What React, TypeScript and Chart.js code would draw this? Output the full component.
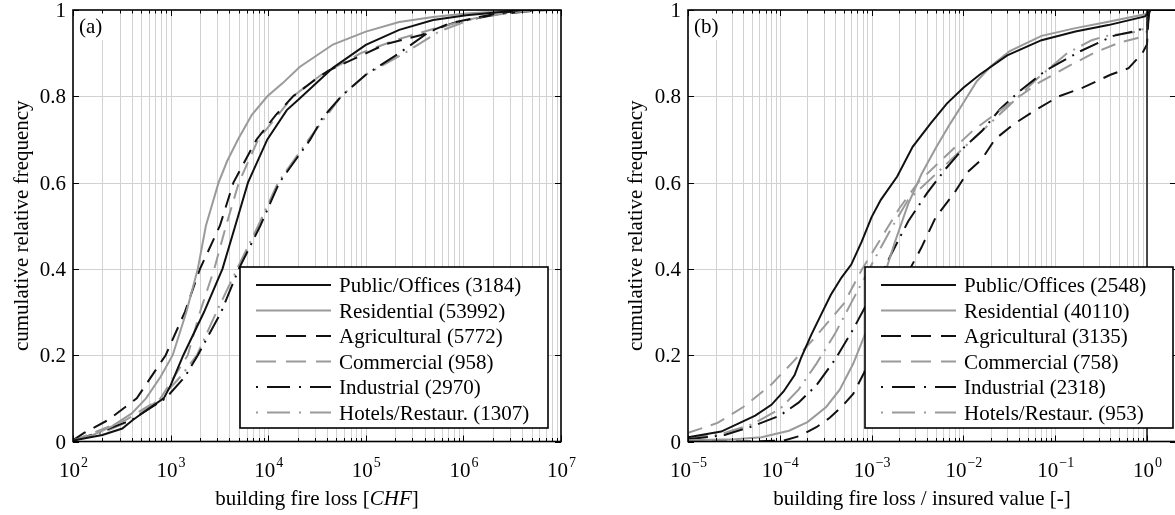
import React, { useEffect, useRef } from "react";
import { Chart, registerables } from "chart.js";

Chart.register(...registerables);

// ---------- shared axis data ----------
const Y_TICKS = [0, 0.2, 0.4, 0.6, 0.8, 1];
const Y_TICK_LABELS = ["0", "0.2", "0.4", "0.6", "0.8", "1"];
const Y_TITLE = "cumulative relative frequency";

// ---------- panel (a) ----------
const A_X_DECADES = [2, 3, 4, 5, 6, 7];
const A_LEGEND = [
  "Public/Offices (3184)",
  "Residential (53992)",
  "Agricultural (5772)",
  "Commercial (958)",
  "Industrial (2970)",
  "Hotels/Restaur. (1307)",
];
const A_PUBLIC_X = [100, 200, 320, 410, 630, 850, 1000, 1350, 2200, 3400, 4600, 6200, 9800, 15500, 21000, 46000, 100000, 220000, 490000, 1070000, 2300000, 4000000, 10000000];
const A_PUBLIC_Y = [0.002, 0.015, 0.03, 0.05, 0.08, 0.1, 0.13, 0.2, 0.3, 0.4, 0.5, 0.6, 0.7, 0.768, 0.795, 0.866, 0.919, 0.954, 0.977, 0.988, 0.995, 1, 1];
const A_RESID_X = [100, 160, 250, 400, 560, 790, 1050, 1450, 1900, 2300, 3100, 3800, 4900, 6800, 9800, 14000, 21000, 46000, 100000, 220000, 490000, 1070000, 2500000, 6300000, 10000000];
const A_RESID_Y = [0.003, 0.015, 0.035, 0.065, 0.1, 0.15, 0.2, 0.3, 0.4, 0.5, 0.6, 0.65, 0.7, 0.757, 0.8, 0.83, 0.868, 0.92, 0.95, 0.972, 0.984, 0.992, 0.997, 1, 1];
const A_AGRI_X = [100, 130, 230, 450, 890, 1400, 2000, 3200, 4400, 7600, 12000, 18000, 30000, 41000, 160000, 370000, 720000, 1700000, 3200000, 5000000, 10000000];
const A_AGRI_Y = [0.003, 0.02, 0.05, 0.1, 0.2, 0.3, 0.4, 0.5, 0.6, 0.7, 0.757, 0.8, 0.838, 0.859, 0.921, 0.942, 0.969, 0.987, 0.997, 1, 1];
const A_COMM_X = [100, 160, 350, 790, 1500, 2000, 2800, 3700, 5000, 7900, 18000, 35000, 89000, 200000, 560000, 1260000, 3200000, 7900000, 10000000];
const A_COMM_Y = [0.002, 0.02, 0.05, 0.1, 0.2, 0.3, 0.4, 0.5, 0.6, 0.7, 0.8, 0.85, 0.9, 0.93, 0.96, 0.98, 0.995, 1, 1];
const A_IND_X = [100, 180, 400, 890, 1400, 1900, 3300, 5000, 8300, 13000, 27000, 36000, 56000, 100000, 220000, 450000, 790000, 2200000, 6300000, 10000000];
const A_IND_Y = [0.002, 0.02, 0.05, 0.1, 0.15, 0.2, 0.3, 0.4, 0.5, 0.6, 0.7, 0.75, 0.8, 0.85, 0.9, 0.95, 0.97, 0.99, 1, 1];
const A_HOTEL_X = [100, 200, 400, 790, 1260, 1860, 2950, 4800, 7900, 12600, 26000, 56000, 100000, 250000, 560000, 1260000, 3200000, 6300000, 10000000];
const A_HOTEL_Y = [0.002, 0.02, 0.05, 0.1, 0.15, 0.2, 0.3, 0.4, 0.5, 0.6, 0.7, 0.8, 0.85, 0.9, 0.95, 0.98, 0.995, 1, 1];

// ---------- panel (b) ----------
const B_X_DECADES = [-5, -4, -3, -2, -1, 0];
const B_LEGEND = [
  "Public/Offices (2548)",
  "Residential (40110)",
  "Agricultural (3135)",
  "Commercial (758)",
  "Industrial (2318)",
  "Hotels/Restaur. (953)",
];
const B_PUBLIC_X = [1e-5, 2.3e-5, 5.4e-5, 8.1e-5, 1.1e-4, 1.45e-4, 1.7e-4, 2.2e-4, 2.8e-4, 3.6e-4, 4.7e-4, 6.0e-4, 7.8e-4, 1.0e-3, 1.26e-3, 1.9e-3, 2.8e-3, 4.4e-3, 6.6e-3, 1.0e-2, 1.5e-2, 3.0e-2, 7.1e-2, 0.166, 0.38, 0.95, 1.1, 2.1];
const B_PUBLIC_Y = [0.01, 0.023, 0.06, 0.085, 0.116, 0.154, 0.193, 0.247, 0.293, 0.34, 0.38, 0.41, 0.463, 0.52, 0.56, 0.614, 0.683, 0.737, 0.783, 0.82, 0.85, 0.895, 0.93, 0.95, 0.965, 0.985, 1, 1];
const B_RESID_X = [1e-5, 3.2e-5, 6.3e-5, 1.26e-4, 2e-4, 3.2e-4, 4.5e-4, 6.3e-4, 8.9e-4, 1.26e-3, 1.78e-3, 2.5e-3, 3.5e-3, 5e-3, 7.1e-3, 1e-2, 1.4e-2, 2e-2, 3.2e-2, 7.1e-2, 0.166, 0.38, 0.95, 1.1, 2.1];
const B_RESID_Y = [0.003, 0.005, 0.01, 0.025, 0.045, 0.08, 0.12, 0.18, 0.26, 0.36, 0.46, 0.55, 0.62, 0.68, 0.735, 0.785, 0.835, 0.87, 0.905, 0.94, 0.958, 0.973, 0.99, 1, 1];
const B_AGRI_X = [1e-5, 5e-5, 1.1e-4, 1.6e-4, 2.5e-4, 3.5e-4, 4.7e-4, 6.3e-4, 8.3e-4, 1.12e-3, 1.5e-3, 2.2e-3, 3.5e-3, 5.0e-3, 7.9e-3, 1.12e-2, 1.6e-2, 2.2e-2, 3.5e-2, 6.3e-2, 0.11, 0.2, 0.4, 0.63, 0.89, 1.0, 1.05, 2.1];
const B_AGRI_Y = [0, 0, 0.002, 0.012, 0.033, 0.055, 0.08, 0.11, 0.16, 0.22, 0.285, 0.37, 0.45, 0.52, 0.575, 0.625, 0.655, 0.7, 0.735, 0.77, 0.8, 0.82, 0.85, 0.865, 0.9, 0.92, 1, 1];
const B_COMM_X = [1e-5, 2.1e-5, 4e-5, 7.9e-5, 1.4e-4, 2.5e-4, 5e-4, 7.9e-4, 1.26e-3, 2e-3, 3.2e-3, 6.3e-3, 1.26e-2, 3.5e-2, 6.8e-2, 0.135, 0.26, 0.51, 0.79, 1.0, 1.07, 2.1];
const B_COMM_Y = [0.02, 0.043, 0.08, 0.13, 0.185, 0.245, 0.32, 0.4, 0.47, 0.54, 0.6, 0.66, 0.72, 0.79, 0.833, 0.868, 0.9, 0.925, 0.935, 0.95, 1, 1];
const B_IND_X = [1e-5, 2.5e-5, 5e-5, 1e-4, 1.6e-4, 2.5e-4, 4e-4, 6.3e-4, 1e-3, 1.6e-3, 2.5e-3, 4e-3, 6.3e-3, 1e-2, 1.6e-2, 2.5e-2, 4e-2, 7.9e-2, 0.19, 0.43, 0.71, 1.0, 1.07, 2.1];
const B_IND_Y = [0.005, 0.015, 0.035, 0.06, 0.09, 0.13, 0.19, 0.26, 0.34, 0.43, 0.51, 0.575, 0.63, 0.68, 0.72, 0.77, 0.81, 0.86, 0.905, 0.94, 0.95, 0.96, 1, 1];
const B_HOTEL_X = [1e-5, 2.5e-5, 5e-5, 1e-4, 1.6e-4, 2.5e-4, 4e-4, 6.3e-4, 1e-3, 1.6e-3, 2.5e-3, 4e-3, 6.3e-3, 1e-2, 1.6e-2, 3.2e-2, 6.3e-2, 0.135, 0.25, 0.36, 0.79, 1.0, 1.07, 2.1];
const B_HOTEL_Y = [0.008, 0.02, 0.04, 0.075, 0.12, 0.18, 0.25, 0.33, 0.41, 0.49, 0.56, 0.6, 0.64, 0.68, 0.72, 0.78, 0.84, 0.9, 0.93, 0.94, 0.95, 0.96, 1, 1];

// ---------- styles ----------
const FONT = '"Liberation Serif", "Times New Roman", Times, serif';
const BLACK = "#111111";
const GRAY = "#9a9a9a";
const GRID = "#d2d2d2";
const STYLES = [
  { color: BLACK, dash: [] as number[], legendDash: [] as number[], width: 2 },
  { color: GRAY, dash: [] as number[], legendDash: [] as number[], width: 2 },
  { color: BLACK, dash: [15, 9], legendDash: [20, 10], width: 2 },
  { color: GRAY, dash: [15, 9], legendDash: [20, 10], width: 2 },
  { color: BLACK, dash: [20, 7, 2, 7], legendDash: [2, 9, 23, 9], width: 2 },
  { color: GRAY, dash: [20, 7, 2, 7], legendDash: [2, 9, 23, 9], width: 2 },
];

type Panel = {
  name: string;
  xMin: number;
  xMax: number;
  decades: number[];
  legend: string[];
  xs: number[][];
  ys: number[][];
  padding: { left: number; right: number; top: number; bottom: number };
  letter: string;
  labelBoxW: number;
  legendLeft: number;
  xTitleParts: { t: string; it: boolean }[];
  xTitleCenter: number;
  yTitleBaseline: number;
  unitLine: boolean;
};

function makePlugin(p: Panel) {
  return {
    id: "panel_" + p.name,
    beforeDatasetsDraw(chart: any) {
      const { ctx, chartArea: ca, scales } = chart;
      const xs = scales.x;
      const ys = scales.y;
      ctx.save();
      ctx.strokeStyle = GRID;
      ctx.lineWidth = 1;
      ctx.beginPath();
      const e0 = Math.floor(Math.log10(xs.min));
      const e1 = Math.ceil(Math.log10(xs.max));
      for (let e = e0; e <= e1; e++) {
        for (let k = 1; k <= 9; k++) {
          const v = k * Math.pow(10, e);
          if (v <= xs.min * 1.0001 || v >= xs.max * 0.9999) continue;
          const px = Math.round(xs.getPixelForValue(v)) + 0.5;
          ctx.moveTo(px, ca.top);
          ctx.lineTo(px, ca.bottom);
        }
      }
      for (const t of Y_TICKS) {
        if (t <= 0 || t >= 1) continue;
        const py = Math.round(ys.getPixelForValue(t)) + 0.5;
        ctx.moveTo(ca.left, py);
        ctx.lineTo(ca.right, py);
      }
      ctx.stroke();
      ctx.fillStyle = "#ffffff";
      ctx.fillRect(ca.left, ca.top, p.labelBoxW, 30);
      ctx.restore();
    },
    afterDatasetsDraw(chart: any) {
      const { ctx, chartArea: ca, scales } = chart;
      const xs = scales.x;
      const ys = scales.y;
      ctx.save();
      if (p.unitLine) {
        const px = xs.getPixelForValue(1);
        ctx.strokeStyle = "#222";
        ctx.lineWidth = 1.6;
        ctx.beginPath();
        ctx.moveTo(px, ca.top);
        ctx.lineTo(px, ca.bottom);
        ctx.stroke();
      }
      ctx.strokeStyle = "#000";
      ctx.lineWidth = 1.6;
      ctx.strokeRect(ca.left, ca.top, ca.right - ca.left, ca.bottom - ca.top);
      ctx.lineWidth = 1;
      ctx.beginPath();
      const e0 = Math.floor(Math.log10(xs.min));
      const e1 = Math.ceil(Math.log10(xs.max));
      for (let e = e0; e <= e1; e++) {
        for (let k = 1; k <= 9; k++) {
          const v = k * Math.pow(10, e);
          if (v < xs.min * 0.9999 || v > xs.max * 1.0001) continue;
          const len = k === 1 ? 6 : 3.5;
          const px = Math.round(xs.getPixelForValue(v)) + 0.5;
          ctx.moveTo(px, ca.bottom);
          ctx.lineTo(px, ca.bottom - len);
          ctx.moveTo(px, ca.top);
          ctx.lineTo(px, ca.top + len);
        }
      }
      for (const t of Y_TICKS) {
        const py = Math.round(ys.getPixelForValue(t)) + 0.5;
        ctx.moveTo(ca.left, py);
        ctx.lineTo(ca.left + 6, py);
        ctx.moveTo(ca.right, py);
        ctx.lineTo(ca.right - 6, py);
      }
      ctx.stroke();

      ctx.fillStyle = "#000";
      ctx.font = `21px ${FONT}`;
      ctx.textAlign = "left";
      ctx.textBaseline = "alphabetic";
      ctx.fillText(p.letter, ca.left + 6, ca.top + 23);

      const lx = p.legendLeft;
      const lw = 308;
      const lt = 267;
      const lb = 428;
      ctx.fillStyle = "#fff";
      ctx.fillRect(lx, lt, lw, lb - lt);
      ctx.strokeStyle = "#000";
      ctx.lineWidth = 1.6;
      ctx.strokeRect(lx, lt, lw, lb - lt);
      p.legend.forEach((txt, i) => {
        const st = STYLES[i];
        const ry = 285 + i * 25.5;
        ctx.save();
        ctx.strokeStyle = st.color;
        ctx.lineWidth = st.width;
        ctx.setLineDash(st.legendDash);
        ctx.beginPath();
        ctx.moveTo(lx + 16, ry);
        ctx.lineTo(lx + 91, ry);
        ctx.stroke();
        ctx.restore();
        ctx.fillStyle = "#000";
        ctx.font = `21px ${FONT}`;
        ctx.textAlign = "left";
        ctx.fillText(txt, lx + 99, ry + 7);
      });

      ctx.font = `21px ${FONT}`;
      ctx.textAlign = "right";
      ctx.fillStyle = "#000";
      Y_TICKS.forEach((t, i) => {
        const py = ys.getPixelForValue(t);
        ctx.fillText(Y_TICK_LABELS[i], ca.left - 7, py + 7);
      });

      p.decades.forEach((d) => {
        const px = xs.getPixelForValue(Math.pow(10, d));
        const base = "10";
        const ex = d < 0 ? "\u2212" + Math.abs(d) : String(d);
        ctx.font = `21px ${FONT}`;
        const wb = ctx.measureText(base).width;
        ctx.font = `14px ${FONT}`;
        const we = ctx.measureText(ex).width;
        const x0 = px - (wb + we) / 2;
        ctx.textAlign = "left";
        ctx.font = `21px ${FONT}`;
        ctx.fillText(base, x0, 477);
        ctx.font = `14px ${FONT}`;
        ctx.fillText(ex, x0 + wb + 1, 467);
      });

      let total = 0;
      for (const part of p.xTitleParts) {
        ctx.font = `${part.it ? "italic " : ""}21px ${FONT}`;
        total += ctx.measureText(part.t).width;
      }
      let cx = p.xTitleCenter - total / 2;
      ctx.textAlign = "left";
      for (const part of p.xTitleParts) {
        ctx.font = `${part.it ? "italic " : ""}21px ${FONT}`;
        ctx.fillText(part.t, cx, 505);
        cx += ctx.measureText(part.t).width;
      }

      ctx.save();
      ctx.translate(p.yTitleBaseline, (ca.top + ca.bottom) / 2);
      ctx.rotate(-Math.PI / 2);
      ctx.font = `21px ${FONT}`;
      ctx.textAlign = "center";
      ctx.fillText(Y_TITLE, 0, 0);
      ctx.restore();

      ctx.restore();
    },
  };
}

function buildChart(canvas: HTMLCanvasElement, p: Panel) {
  const datasets = p.xs.map((xArr, i) => ({
    label: p.legend[i],
    data: xArr.map((xv, j) => ({ x: xv, y: p.ys[i][j] })),
    borderColor: STYLES[i].color,
    backgroundColor: STYLES[i].color,
    borderWidth: STYLES[i].width,
    borderDash: STYLES[i].dash,
    pointRadius: 0,
    showLine: true,
    fill: false,
    tension: 0,
  }));
  return new Chart(canvas, {
    type: "scatter",
    data: { datasets },
    options: {
      responsive: false,
      animation: false,
      events: [],
      layout: { padding: p.padding },
      plugins: { legend: { display: false }, tooltip: { enabled: false } },
      scales: {
        x: {
          type: "logarithmic",
          min: p.xMin,
          max: p.xMax,
          ticks: { display: false },
          grid: { display: false, drawTicks: false },
          border: { display: false },
        },
        y: {
          type: "linear",
          min: 0,
          max: 1,
          ticks: { display: false },
          grid: { display: false, drawTicks: false },
          border: { display: false },
        },
      },
    },
    plugins: [makePlugin(p)],
  } as any);
}

const PANEL_A: Panel = {
  name: "a",
  xMin: 1e2,
  xMax: 1e7,
  decades: A_X_DECADES,
  legend: A_LEGEND,
  xs: [A_PUBLIC_X, A_RESID_X, A_AGRI_X, A_COMM_X, A_IND_X, A_HOTEL_X],
  ys: [A_PUBLIC_Y, A_RESID_Y, A_AGRI_Y, A_COMM_Y, A_IND_Y, A_HOTEL_Y],
  padding: { left: 73, right: 39, top: 10, bottom: 73.5 },
  letter: "(a)",
  labelBoxW: 35,
  legendLeft: 240,
  xTitleParts: [
    { t: "building fire loss [", it: false },
    { t: "CHF", it: true },
    { t: "]", it: false },
  ],
  xTitleCenter: 317,
  yTitleBaseline: 28,
  unitLine: false,
};

const PANEL_B: Panel = {
  name: "b",
  xMin: 1e-5,
  xMax: 2.07,
  decades: B_X_DECADES,
  legend: B_LEGEND,
  xs: [B_PUBLIC_X, B_RESID_X, B_AGRI_X, B_COMM_X, B_IND_X, B_HOTEL_X],
  ys: [B_PUBLIC_Y, B_RESID_Y, B_AGRI_Y, B_COMM_Y, B_IND_Y, B_HOTEL_Y],
  padding: { left: 88, right: 24, top: 10, bottom: 73.5 },
  letter: "(b)",
  labelBoxW: 36,
  legendLeft: 265,
  xTitleParts: [{ t: "building fire loss / insured value [-]", it: false }],
  xTitleCenter: 322,
  yTitleBaseline: 42,
  unitLine: true,
};

export default function App() {
  const refA = useRef<HTMLCanvasElement | null>(null);
  const refB = useRef<HTMLCanvasElement | null>(null);
  useEffect(() => {
    const ca = buildChart(refA.current!, PANEL_A);
    const cb = buildChart(refB.current!, PANEL_B);
    return () => {
      ca.destroy();
      cb.destroy();
    };
  }, []);
  return (
    <div
      style={{
        position: "fixed",
        left: 0,
        top: 0,
        width: 1175,
        height: 515,
        overflow: "hidden",
        background: "#ffffff",
      }}
    >
      <canvas
        ref={refA}
        width={600}
        height={515}
        style={{ position: "absolute", left: 0, top: 0, width: 600, height: 515 }}
      />
      <canvas
        ref={refB}
        width={600}
        height={515}
        style={{ position: "absolute", left: 600, top: 0, width: 600, height: 515 }}
      />
    </div>
  );
}
